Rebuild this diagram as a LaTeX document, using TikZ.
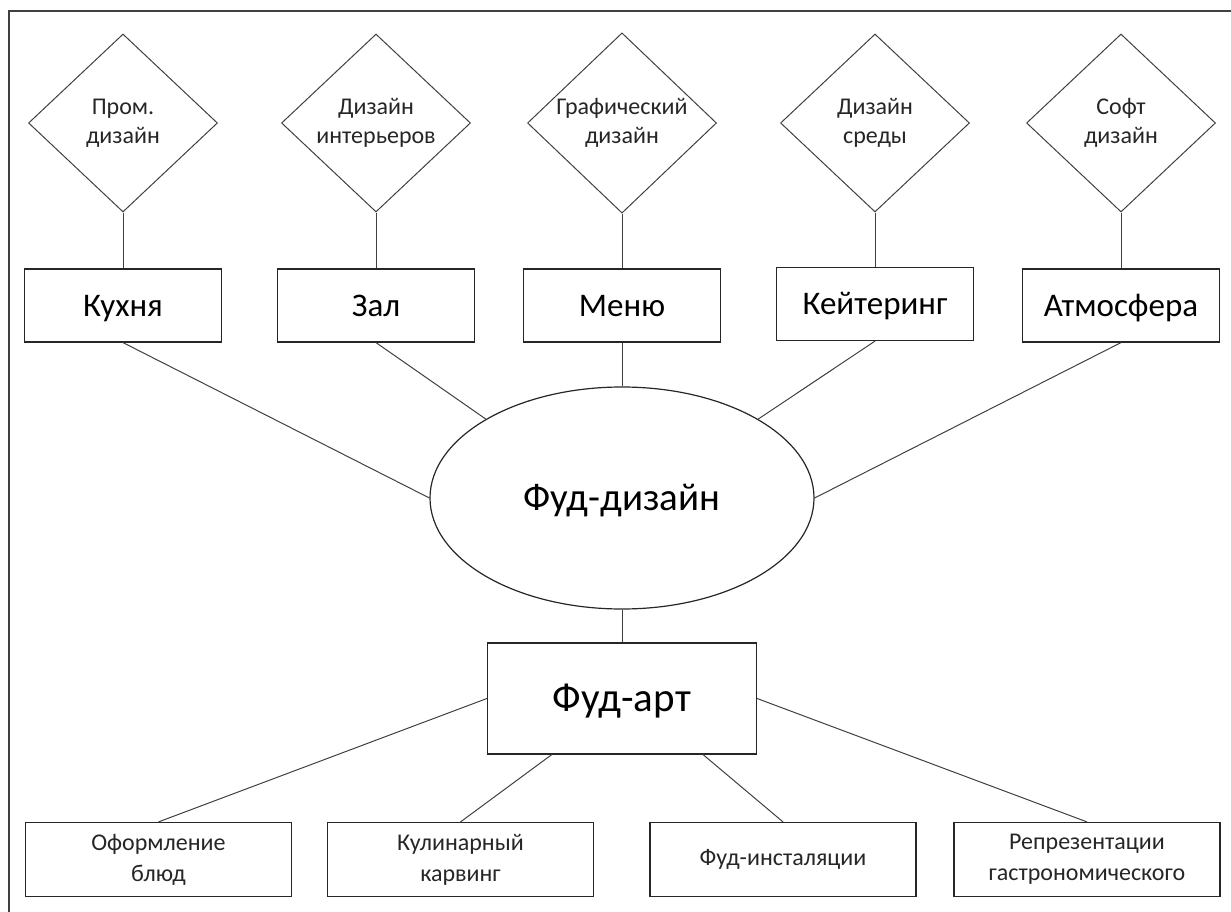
\documentclass[tikz,border=0pt]{standalone}
\usepackage{fontspec}
\setmainfont{Carlito}
\usetikzlibrary{shapes.geometric,calc}
\definecolor{edgegray}{RGB}{64,64,64}
\begin{document}
\begin{tikzpicture}[x=1pt,y=-1pt,
    rhomb/.style={draw=edgegray,line width=1pt,diamond,minimum width=189pt,minimum height=178pt,inner sep=0pt,align=center,text=black!85,font=\fontsize{24}{29}\selectfont},
    topbox/.style={draw=black!85,line width=1.2pt,minimum width=197pt,minimum height=73pt,inner sep=0pt,text height=28pt,text depth=6.6pt,font=\fontsize{33}{38}\selectfont},
    lowbox/.style={draw=black!85,line width=1.2pt,minimum width=266pt,minimum height=74pt,inner sep=0pt,align=center,text=black!85,font=\fontsize{24}{31}\selectfont},
    link/.style={draw=edgegray,line width=1pt}]
\useasboundingbox (0,0) rectangle (1231,912);
% frame
\draw[edgegray,line width=1.5pt] (9,912) -- (9,11) -- (1231,11);

% design kinds
\node[rhomb] (prom) at (123,123) {Пром.\\дизайн};
\node[rhomb] (inter) at (376,123) {Дизайн\\интерьеров};
\node[rhomb] (graph) at (622,123) {Графический\\дизайн};
\node[rhomb] (sreda) at (875,123) {Дизайн\\среды};
\node[rhomb] (soft) at (1121,123) {Софт\\дизайн};

% places
\node[topbox] (kitchen) at (123,305.5) {Кухня};
\node[topbox] (hall) at (376,305.5) {Зал};
\node[topbox] (menu) at (622,305.5) {Меню};
\node[topbox] (catering) at (875,304) {Кейтеринг};
\node[topbox] (atmo) at (1121,305.5) {Атмосфера};

% centre
\node[draw=black!85,line width=1.2pt,ellipse,minimum width=384pt,minimum height=222pt,inner sep=0pt,text height=33pt,text depth=7.8pt,font=\fontsize{39}{44}\selectfont] (fd) at (622,498) {Фуд-дизайн};
\node[draw=black!85,line width=1.2pt,minimum width=269pt,minimum height=111pt,inner sep=0pt,text height=35pt,text depth=8.2pt,font=\fontsize{41}{46}\selectfont] (fa) at (622,698.5) {Фуд-арт};

% food art kinds
\node[lowbox] (plating) at (158.5,859.5) {Оформление\\блюд};
\node[lowbox] (carving) at (460.5,859.5) {Кулинарный\\карвинг};
\node[lowbox] (install) at (783,859.5) {Фуд-инсталяции};
\node[lowbox] (repr) at (1087,859.5) {Репрезентации\\гастрономического};

\draw[link] (prom) -- (kitchen);
\draw[link] (inter) -- (hall);
\draw[link] (graph) -- (menu);
\draw[link] (sreda) -- (catering);
\draw[link] (soft) -- (atmo);

\draw[link] (kitchen.south) -- (fd.west);
\draw[link] (hall.south) -- (fd.north west);
\draw[link] (menu) -- (fd);
\draw[link] (catering.south) -- (fd.north east);
\draw[link] (atmo.south) -- (fd.east);
\draw[link] (fd) -- (fa);

\draw[link] (fa.west) -- (plating.north);
\draw[link] ($(fa.south west)!0.24!(fa.south east)$) -- (carving.north);
\draw[link] ($(fa.south west)!0.8!(fa.south east)$) -- (install.north);
\draw[link] (fa.east) -- (repr.north);
\end{tikzpicture}
\end{document}
